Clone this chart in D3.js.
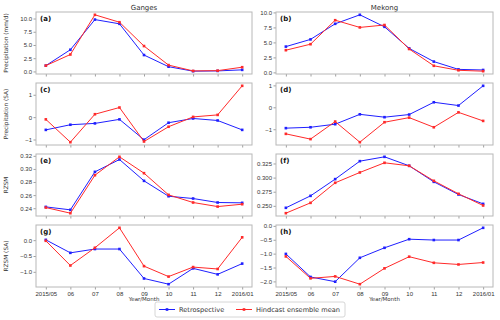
<!DOCTYPE html>
<html>
<head>
<meta charset="utf-8">
<script src="https://cdn.jsdelivr.net/npm/d3@7"></script>
<style>
  html, body { margin: 0; padding: 0; background: #fff; }
  svg { display: block; font-family: "DejaVu Sans", sans-serif; }
</style>
</head>
<body>
<svg id="chart" width="500" height="320"></svg>
<script>
// ---- data ----
const months = ["2015/05", "06", "07", "08", "09", "10", "11", "12", "2016/01"];
const basins = ["Ganges", "Mekong"];
const seriesNames = ["Retrospective", "Hindcast ensemble mean"];
const rowLabels = ["Precipitation (mm/d)", "Precipitation (SA)", "RZSM", "RZSM (SA)"];
const panelLetters = ["(a)", "(b)", "(c)", "(d)", "(e)", "(f)", "(g)", "(h)"];

const gangesPrecipRetro = [1.1, 4.1, 9.8, 9.0, 3.1, 0.9, 0.05, 0.1, 0.3];
const gangesPrecipHind  = [1.1, 3.2, 10.7, 9.3, 4.8, 1.2, 0.1, 0.15, 0.8];
const mekongPrecipRetro = [4.3, 5.5, 8.1, 9.6, 7.6, 4.0, 1.8, 0.5, 0.4];
const mekongPrecipHind  = [3.7, 4.7, 8.7, 7.5, 7.9, 3.9, 1.1, 0.35, 0.2];

const gangesPrecipSARetro = [-0.57, -0.34, -0.28, -0.10, -1.01, -0.25, -0.06, -0.15, -0.57];
const gangesPrecipSAHind  = [-0.10, -1.12, 0.13, 0.43, -1.09, -0.43, 0.01, 0.10, 1.40];
const mekongPrecipSARetro = [-0.95, -0.91, -0.77, -0.32, -0.45, -0.33, 0.23, 0.08, 0.98];
const mekongPrecipSAHind  = [-1.21, -1.45, -0.65, -1.59, -0.68, -0.47, -0.91, -0.23, -0.62];

const gangesRzsmRetro = [0.2420, 0.2375, 0.2955, 0.3144, 0.2818, 0.2583, 0.2548, 0.2487, 0.2482];
const gangesRzsmHind  = [0.2410, 0.2324, 0.2904, 0.3185, 0.2935, 0.2604, 0.2487, 0.2425, 0.2461];
const mekongRzsmRetro = [0.2465, 0.2677, 0.2973, 0.3291, 0.3368, 0.3209, 0.2925, 0.2701, 0.2535];
const mekongRzsmHind  = [0.2370, 0.2553, 0.2908, 0.3091, 0.3262, 0.3209, 0.2943, 0.2713, 0.2506];

const gangesRzsmSARetro = [0.01, -0.40, -0.28, -0.28, -1.21, -1.39, -0.89, -1.08, -0.74];
const gangesRzsmSAHind  = [-0.02, -0.80, -0.24, 0.39, -0.82, -1.15, -0.85, -0.91, 0.09];
const mekongRzsmSARetro = [-1.01, -1.84, -2.01, -1.15, -0.79, -0.48, -0.51, -0.51, -0.07];
const mekongRzsmSAHind  = [-1.10, -1.89, -1.82, -2.10, -1.53, -1.11, -1.33, -1.39, -1.32];

const ticksPrecip = [0, 2.5, 5, 7.5, 10];
const ticksSA = [-1, 0, 1];
const ticksGangesRzsm = [0.24, 0.26, 0.28, 0.30, 0.32];
const ticksMekongRzsm = [0.25, 0.275, 0.30, 0.325];
const ticksGangesRzsmSA = [-1, -0.5, 0];
const ticksMekongRzsmSA = [-2, -1.5, -1, -0.5, 0];

// ---- layout ----
const colors = ["#1f1fff", "#ff2a2a"];
const colX = [36, 276], colW = [216, 217];
const rowY = [12, 83, 154, 225], rowH = 62;

const panels = [
  {row: 0, col: 0, series: [gangesPrecipRetro, gangesPrecipHind], ticks: ticksPrecip, fmt: ".1f"},
  {row: 0, col: 1, series: [mekongPrecipRetro, mekongPrecipHind], ticks: ticksPrecip, fmt: ".1f"},
  {row: 1, col: 0, series: [gangesPrecipSARetro, gangesPrecipSAHind], ticks: ticksSA, fmt: "d"},
  {row: 1, col: 1, series: [mekongPrecipSARetro, mekongPrecipSAHind], ticks: ticksSA, fmt: "d"},
  {row: 2, col: 0, series: [gangesRzsmRetro, gangesRzsmHind], ticks: ticksGangesRzsm, fmt: ".2f"},
  {row: 2, col: 1, series: [mekongRzsmRetro, mekongRzsmHind], ticks: ticksMekongRzsm, fmt: ".3f"},
  {row: 3, col: 0, series: [gangesRzsmSARetro, gangesRzsmSAHind], ticks: ticksGangesRzsmSA, fmt: ".1f"},
  {row: 3, col: 1, series: [mekongRzsmSARetro, mekongRzsmSAHind], ticks: ticksMekongRzsmSA, fmt: ".1f"}
];

const svg = d3.select("#chart");

panels.forEach((p, i) => {
  const x0 = colX[p.col], w = colW[p.col], y0 = rowY[p.row];
  const n = months.length;
  const xPad = (n - 1) * 0.05;
  const x = d3.scaleLinear().domain([-xPad, n - 1 + xPad]).range([x0, x0 + w]);
  const all = p.series.flat();
  const lo = d3.min(all), hi = d3.max(all), m = (hi - lo) * 0.05;
  const y = d3.scaleLinear().domain([lo - m, hi + m]).range([y0 + rowH, y0]);

  const g = svg.append("g");

  // y axis
  const ya = g.append("g").attr("transform", `translate(${x0},0)`)
    .call(d3.axisLeft(y).tickValues(p.ticks).tickFormat(d3.format(p.fmt)).tickSize(2.5).tickPadding(1.5));
  ya.select(".domain").remove();
  ya.selectAll(".tick line").attr("stroke", "#888").attr("stroke-width", 0.8);
  ya.selectAll(".tick text").attr("fill", "#333").style("font-size", "6px");

  // x axis
  const xa = g.append("g").attr("transform", `translate(0,${y0 + rowH})`)
    .call(d3.axisBottom(x).tickValues(d3.range(n)).tickSize(2.5).tickPadding(2)
      .tickFormat(p.row === 3 ? (d => months[d]) : () => ""));
  xa.select(".domain").remove();
  xa.selectAll(".tick line").attr("stroke", "#888").attr("stroke-width", 0.8);
  xa.selectAll(".tick text").attr("fill", "#333").style("font-size", "6px");

  // frame
  g.append("rect").attr("x", x0).attr("y", y0).attr("width", w).attr("height", rowH)
    .attr("fill", "none").attr("stroke", "#b8b8b8").attr("stroke-width", 1);

  // series
  const line = d3.line().x((d, k) => x(k)).y(d => y(d));
  p.series.forEach((s, si) => {
    g.append("path").datum(s).attr("d", line).attr("fill", "none")
      .attr("stroke", colors[si]).attr("stroke-width", 1);
    g.selectAll(null).data(s).enter().append("rect")
      .attr("x", (d, k) => x(k) - 1.3).attr("y", d => y(d) - 1.3)
      .attr("width", 2.6).attr("height", 2.6).attr("fill", colors[si]);
  });

  // panel letter
  g.append("text").attr("x", x0 + 4).attr("y", y0 + 9)
    .style("font-size", "7px").style("font-weight", "bold").attr("fill", "#111")
    .text(panelLetters[i]);

  // row label
  if (p.col === 0) {
    const cy = y0 + rowH / 2;
    g.append("text").attr("transform", `translate(8,${cy}) rotate(-90)`)
      .attr("text-anchor", "middle").style("font-size", "5.8px").attr("fill", "#333")
      .text(rowLabels[p.row]);
  }
  if (p.row === 0) {
    g.append("text").attr("x", x0 + w / 2).attr("y", 9.5).attr("text-anchor", "middle")
      .style("font-size", "7px").attr("fill", "#333").text(basins[p.col]);
  }
  if (p.row === 3) {
    g.append("text").attr("x", x0 + w / 2).attr("y", 301).attr("text-anchor", "middle")
      .style("font-size", "5.5px").attr("fill", "#333").text("Year/Month");
  }
});

// legend
const lg = svg.append("g");
lg.append("rect").attr("x", 155).attr("y", 302).attr("width", 190).attr("height", 15).attr("rx", 2)
  .attr("fill", "#fff").attr("stroke", "#ccc").attr("stroke-width", 0.8);
const legX = [159, 236];
seriesNames.forEach((name, i) => {
  const lx = legX[i], ly = 309.5;
  lg.append("line").attr("x1", lx).attr("x2", lx + 16).attr("y1", ly).attr("y2", ly)
    .attr("stroke", colors[i]).attr("stroke-width", 1);
  lg.append("rect").attr("x", lx + 8 - 1.3).attr("y", ly - 1.3).attr("width", 2.6).attr("height", 2.6)
    .attr("fill", colors[i]);
  lg.append("text").attr("x", lx + 20).attr("y", ly + 2.3).style("font-size", "6.6px")
    .attr("fill", "#333").text(name);
});
</script>
</body>
</html>
